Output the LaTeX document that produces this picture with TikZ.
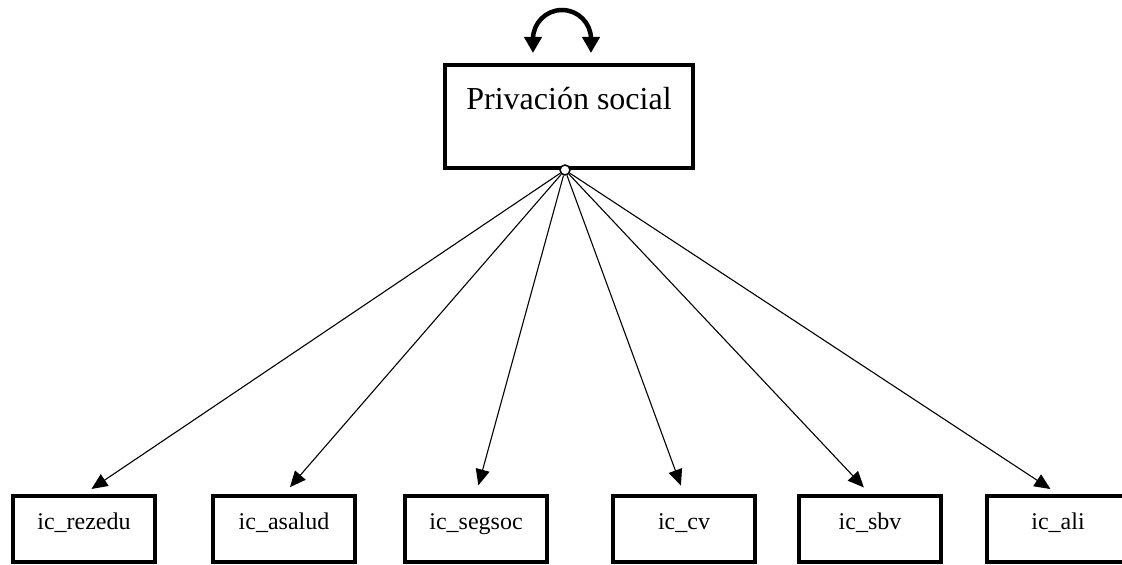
\documentclass[tikz,border=0pt]{standalone}
\usepackage{fontspec}
\setmainfont{Liberation Serif}
\usetikzlibrary{arrows.meta,positioning}

\begin{document}
\begin{tikzpicture}[
    x=1pt, y=1pt,
    factor/.style={rectangle, draw, line width=4pt, minimum width=248pt, minimum height=103pt, font=\fontsize{32}{38}\selectfont, text height=22pt, text depth=35pt},
    indic/.style={rectangle, draw, line width=4pt, minimum width=142pt, minimum height=66pt, font=\fontsize{24}{29}\selectfont, text height=16pt, text depth=15pt},
    arrow/.style={-{Triangle[length=16pt,width=14pt]}, line width=1.1pt, shorten >=9pt},
    varloop/.style={{Triangle[length=16pt,width=17pt]}-{Triangle[length=16pt,width=17pt]}, line width=4.5pt}
]
\useasboundingbox (0,0) rectangle (1122,565);

% Factor
\node[factor] (priv) at (569,448.5) {Privación social};
\node[circle, draw, fill=white, line width=1.5pt, inner sep=0pt, minimum size=10pt] (orig) at ([xshift=-4pt]priv.south) {};

% Variance
\coordinate (loopL) at (533,512);
\coordinate (loopR) at (591,512);
\draw[varloop] (loopL) -- ++(0,14) arc[start angle=180, end angle=0, radius=29] -- (loopR);

% Indicators
\node[indic] (rezedu) at (84,36) {ic\_rezedu};
\node[indic, right=54pt of rezedu] (asalud) {ic\_asalud};
\node[indic, right=46pt of asalud] (segsoc) {ic\_segsoc};
\node[indic, right=62pt of segsoc] (cv) {ic\_cv};
\node[indic, right=40pt of cv] (sbv) {ic\_sbv};
\node[indic, right=42pt of sbv] (ali) {ic\_ali};

% Loadings
\foreach \ind in {rezedu,asalud,segsoc,cv,sbv,ali}
    \draw[arrow] (orig) -- (\ind.north);

\end{tikzpicture}
\end{document}
